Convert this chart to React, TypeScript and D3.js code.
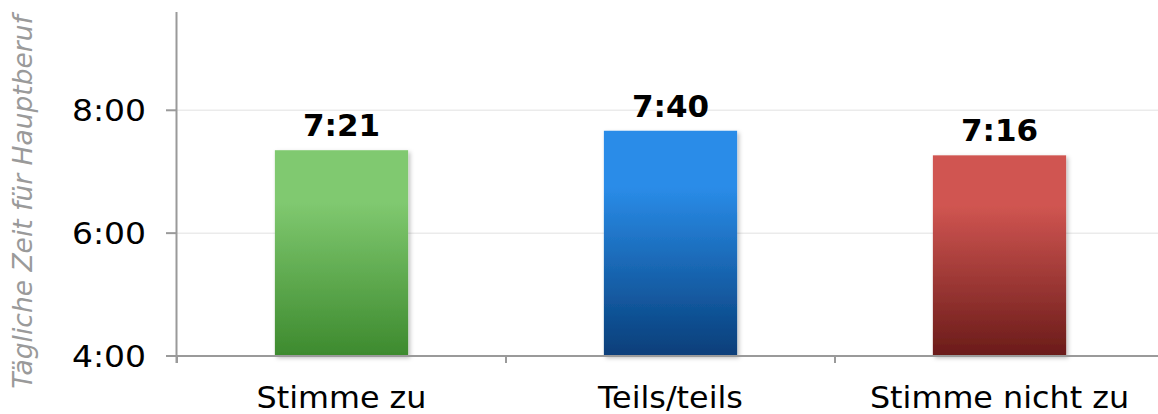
import React from "react";
import * as d3 from "d3";

const categories = ["Stimme zu", "Teils/teils", "Stimme nicht zu"];
const valuesHours = [7 + 21 / 60, 7 + 40 / 60, 7 + 16 / 60];
const valueLabels = ["7:21", "7:40", "7:16"];
const yTicks = [4, 6, 8];
const topColors = ["#80c970", "#2a8ce8", "#d05551"];
const bottomColors = ["#3d8a2e", "#073e79", "#6a1b19"];

const W = 1158;
const H = 414;
const M = { left: 177, right: 0, top: 12, bottom: 58 };

export default function App() {
  const x = d3.scaleBand<string>().domain(categories).range([M.left, M.left + 329 * 3]).paddingInner(0).paddingOuter(0);
  const y = d3.scaleLinear().domain([4, 9.6]).range([356, M.top]);
  const barW = x.bandwidth() * 0.405;
  const fmt = (h: number) => `${Math.floor(h)}:${String(Math.round((h % 1) * 60)).padStart(2, "0")}`;
  const axisColor = "#9a9a9a";
  const font = "'DejaVu Sans', Verdana, sans-serif";
  return (
    <svg width={W} height={H} style={{ position: "absolute", left: 0, top: 0 }} fontFamily={font}>
      <defs>
        {categories.map((c, i) => (
          <linearGradient key={c} id={`g${i}`} x1="0" y1="0" x2="0" y2="1">
            <stop offset="0%" stopColor={topColors[i]} />
            <stop offset="25%" stopColor={topColors[i]} />
            <stop offset="100%" stopColor={bottomColors[i]} />
          </linearGradient>
        ))}
        <filter id="sh" x="-10%" y="-10%" width="130%" height="130%">
          <feDropShadow dx="2" dy="2" stdDeviation="2" floodColor="#000" floodOpacity="0.25" />
        </filter>
      </defs>
      {yTicks.filter((t) => t > 4).map((t) => (
        <line key={t} x1={M.left} x2={W} y1={y(t)} y2={y(t)} stroke="#ebebeb" strokeWidth={1.5} />
      ))}
      {categories.map((c, i) => {
        const bx = x(c)! + (x.bandwidth() - barW) / 2;
        const by = y(valuesHours[i]);
        return (
          <g key={c}>
            <rect x={bx} y={by} width={barW} height={y(4) - by} fill={`url(#g${i})`} filter="url(#sh)" />
            <text x={bx + barW / 2} y={by - 14} textAnchor="middle" fontWeight="bold" fontSize={31} fill="#000">
              {valueLabels[i]}
            </text>
            <text x={x(c)! + x.bandwidth() / 2} y={408} textAnchor="middle" fontSize={30} fill="#000" transform={`translate(${x(c)! + x.bandwidth() / 2},0) scale(1.06,1) translate(${-(x(c)! + x.bandwidth() / 2)},0)`}>
              {c}
            </text>
          </g>
        );
      })}
      <line x1={M.left - 0.5} x2={M.left - 0.5} y1={M.top} y2={363} stroke={axisColor} strokeWidth={2} />
      <line x1={166} x2={W} y1={356} y2={356} stroke={axisColor} strokeWidth={2} />
      {yTicks.map((t) => (
        <g key={t}>
          <line x1={166} x2={M.left} y1={y(t)} y2={y(t)} stroke={axisColor} strokeWidth={2} />
          <text x={146} y={y(t) + 11} textAnchor="end" fontSize={30} fill="#000" transform={`translate(146,0) scale(1.1,1) translate(-146,0)`}>
            {fmt(t)}
          </text>
        </g>
      ))}
      {categories.map((c) => (
        <line key={c} x1={x(c)!} x2={x(c)!} y1={356} y2={363} stroke={axisColor} strokeWidth={2} />
      ))}
      <line x1={M.left + 329 * 3} x2={M.left + 329 * 3} y1={356} y2={363} stroke={axisColor} strokeWidth={2} />
      <text transform={`translate(32,202) rotate(-90)`} textAnchor="middle" fontSize={26.5} fontStyle="italic" fill="#9a9a9a">
        Tägliche Zeit für Hauptberuf
      </text>
    </svg>
  );
}
